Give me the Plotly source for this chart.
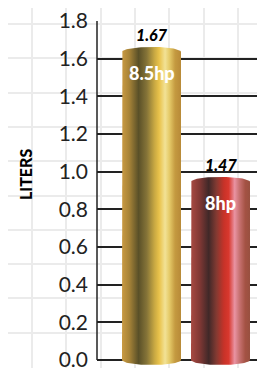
import numpy as np
import plotly.graph_objects as go

# ---- data ----
categories = ["8.5hp", "8hp"]
bar_heights = [1.636, 0.946]          # drawn heights
value_labels = ["1.67", "1.47"]       # labels printed above bars
y_ticks = [0.0, 0.2, 0.4, 0.6, 0.8, 1.0, 1.2, 1.4, 1.6, 1.8]

gold_scale = [[0.0, "#c99a42"], [0.12, "#a88438"], [0.28, "#5a5028"], [0.42, "#857438"],
              [0.55, "#c8a842"], [0.63, "#e9c24a"], [0.73, "#f2e296"], [0.8, "#e6cc6a"],
              [0.9, "#c49a40"], [1.0, "#b88a38"]]
red_scale = [[0.0, "#a84a42"], [0.15, "#803834"], [0.3, "#402828"], [0.43, "#823a32"],
             [0.56, "#c83228"], [0.64, "#d8382e"], [0.74, "#e993a2"], [0.82, "#c87272"],
             [0.92, "#a45244"], [1.0, "#985040"]]
scales = [gold_scale, red_scale]

# page has an 8px body margin, so the figure is 8px smaller and everything is offset
W, H = 257, 360
half_w = 0.4275
ry = 0.0265

fig = go.Figure()

# background graph-paper axes (pixel units)
fig.add_trace(go.Scatter(x=[None], y=[None], xaxis="x", yaxis="y",
                         showlegend=False, hoverinfo="skip"))

for i, h in enumerate(bar_heights):
    t_top = np.linspace(np.pi, 0, 40)
    t_bot = np.linspace(0, np.pi, 40)
    xs = [i - half_w] + list(i + half_w * np.cos(t_top)) + list(i + half_w * np.cos(t_bot)) + [i - half_w]
    ys = [0] + list(h + ry * np.sin(t_top)) + list(-ry * np.sin(t_bot)) + [0]
    fig.add_trace(go.Scatter(
        x=xs, y=ys, xaxis="x2", yaxis="y2", mode="lines", fill="toself",
        line=dict(width=0, color="rgba(0,0,0,0)"),
        fillgradient=dict(type="horizontal", colorscale=scales[i],
                          start=i - half_w, stop=i + half_w),
        showlegend=False, hoverinfo="skip"))
    fig.add_annotation(x=i, y=h, xref="x2", yref="y2", text=value_labels[i],
                       showarrow=False, yshift=17,
                       font=dict(family="Lato", size=16, color="#000", weight=900, style="italic"))
    fig.add_annotation(x=i, y=h, xref="x2", yref="y2", text=categories[i],
                       showarrow=False, yshift=-21,
                       font=dict(family="Lato", size=18, color="#fff", weight=900))

# y axis line
fig.add_shape(type="line", xref="x2 domain", yref="y2", x0=0, x1=0, y0=0, y1=1.8,
              line=dict(color="#222", width=1.5))

fig.add_annotation(x=17 / W, y=1 - 167 / H, xref="paper", yref="paper", text="LITERS",
                   textangle=-90, showarrow=False, xanchor="center", yanchor="middle",
                   font=dict(family="Lato", size=16, color="#000", weight=900))

fig.update_layout(
    template="none",
    width=W, height=H, margin=dict(l=0, r=0, t=0, b=0, pad=0),
    paper_bgcolor="white", plot_bgcolor="rgba(0,0,0,0)",
    xaxis=dict(domain=[0, 1], range=[0, W], tick0=24, dtick=34.3, showgrid=True,
               gridcolor="#ebebeb", gridwidth=2.3, showticklabels=False, zeroline=False,
               showline=False, fixedrange=True, automargin=False, ticks=""),
    yaxis=dict(domain=[0, 1], range=[H, 0], tick0=16, dtick=34.3, showgrid=True,
               gridcolor="#ebebeb", gridwidth=2.3, showticklabels=False, zeroline=False,
               showline=False, fixedrange=True, automargin=False, ticks=""),
    xaxis2=dict(domain=[89 / W, 1], range=[-0.79, 1.645], anchor="y2", showgrid=False,
                showticklabels=False, zeroline=False, showline=False, automargin=False,
                ticks=""),
    yaxis2=dict(domain=[0, 1 - 13 / H], range=[-0.0424, 1.8], anchor="x2",
                tickvals=y_ticks, tickformat=".1f", showgrid=True, gridcolor="#222",
                gridwidth=1.5, zeroline=False, showline=False, ticklabelstandoff=8,
                automargin=False, ticks="", ticklabeloverflow="allow",
                tickfont=dict(family="Lato", size=21, color="#222")),
)

fig.write_html("out.html")
